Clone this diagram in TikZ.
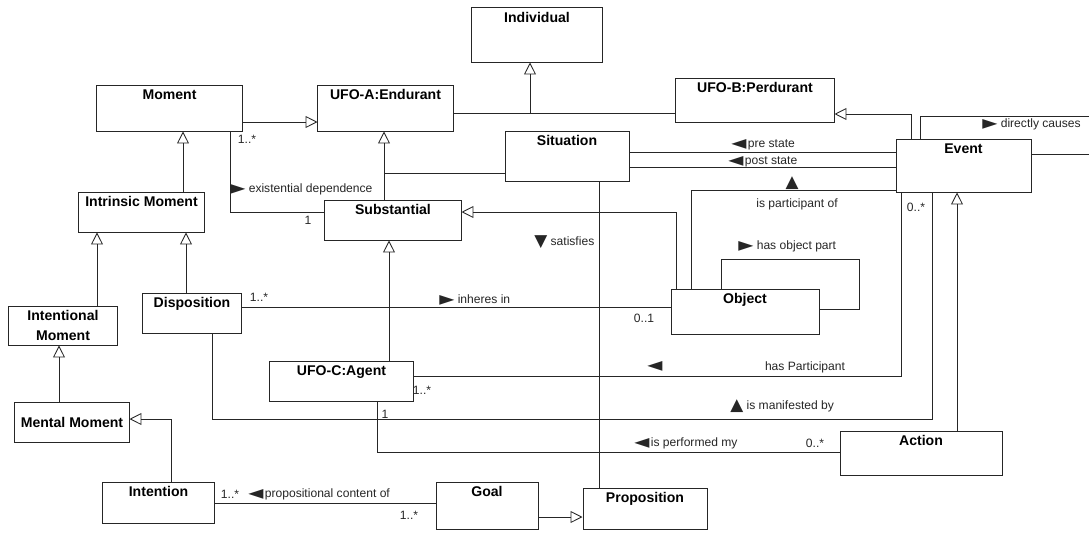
\documentclass[tikz,border=0pt]{standalone}
\usepackage{fontspec}
\setmainfont{Liberation Sans}
\newfontfamily\symfont{DejaVu Sans}
\usetikzlibrary{arrows.meta}
\newcommand{\rtri}{\smash{\raisebox{-1.5pt}{\symfont\fontsize{14}{14}\selectfont\char"25BA}}}
\newcommand{\ltri}{\smash{\raisebox{-1.5pt}{\symfont\fontsize{14}{14}\selectfont\char"25C4}}}
\newcommand{\utri}{\smash{\raisebox{-0.5pt}{\symfont\fontsize{12}{12}\selectfont\char"25B2}}}
\newcommand{\dtri}{\smash{\raisebox{-0.5pt}{\symfont\fontsize{12}{12}\selectfont\char"25BC}}}

\begin{document}
\begin{tikzpicture}[x=0.025cm, y=-0.025cm,
  cls/.style={draw=black!85, line width=0.7pt, inner sep=0pt},
  ttl/.style={anchor=north, font=\bfseries\fontsize{10}{12}\selectfont},
  lbl/.style={font=\fontsize{8.6}{10}\selectfont, inner sep=0pt, text=black!85},
  conn/.style={draw=black!85, line width=0.6pt},
  gen/.style={conn, -{Triangle[open, length=8.5pt, width=8.5pt]}}]
  \useasboundingbox (0,0) rectangle (1089,532);

  % Classes
  \node[cls, minimum width=3.25cm, minimum height=1.35cm,
        label={[ttl]north:Individual}] (individual) at (537,35) {};
  \node[cls, minimum width=3.625cm, minimum height=1.15cm,
        label={[ttl]north:Moment}] (moment) at (169.5,108) {};
  \node[cls, minimum width=3.375cm, minimum height=1.15cm,
        label={[ttl]north:{UFO-A:Endurant}}] (endurant) at (385.5,108) {};
  \node[cls, minimum width=3.95cm, minimum height=1.1cm,
        label={[ttl]north:{UFO-B:Perdurant}}] (perdurant) at (755,100) {};
  \node[cls, minimum width=3.1cm, minimum height=1.25cm,
        label={[ttl]north:Situation}] (situation) at (567,156) {};
  \node[cls, minimum width=3.375cm, minimum height=1.325cm,
        label={[ttl]north:Event}] (event) at (963.5,165.5) {};
  \node[cls, minimum width=3.125cm, minimum height=1.0cm,
        label={[ttl]north:Intrinsic Moment}] (intrinsic) at (141.5,212) {};
  \node[cls, minimum width=3.4cm, minimum height=1.0cm,
        label={[ttl]north:Substantial}] (substantial) at (393,220) {};
  \node[cls, minimum width=3.7cm, minimum height=1.125cm,
        label={[ttl]north:Object}] (object) at (745,311.5) {};
  \node[cls, minimum width=2.45cm, minimum height=1.0cm,
        label={[ttl]north:Disposition}] (disposition) at (192,313) {};
  \node[cls, minimum width=2.7cm, minimum height=0.975cm, align=center,
        font=\bfseries\fontsize{10}{14}\selectfont] (intentional) at (63,325.5)
        {Intentional\\Moment};
  \node[cls, minimum width=3.575cm, minimum height=1.0cm,
        label={[ttl]north:{UFO-C:Agent}}] (agent) at (341.5,381) {};
  \node[cls, minimum width=2.85cm, minimum height=1.0cm,
        font=\bfseries\fontsize{10}{12}\selectfont] (mental) at (72,422) {Mental Moment};
  \node[cls, minimum width=4.05cm, minimum height=1.1cm,
        label={[ttl]north:Action}] (action) at (921,453) {};
  \node[cls, minimum width=2.775cm, minimum height=1.025cm,
        label={[ttl]north:Intention}] (intention) at (158.5,502.5) {};
  \node[cls, minimum width=2.55cm, minimum height=1.175cm,
        label={[ttl]north:Goal}] (goal) at (487,505.5) {};
  \node[cls, minimum width=3.1cm, minimum height=1.025cm,
        label={[ttl]north:Proposition}] (proposition) at (645,508.5) {};

  % Generalisations
  \coordinate (indjoin) at (530,113);
  \coordinate (endjoin) at (384,173);
  \draw[gen] (moment.east |- 0,122) -- (endurant.west |- 0,122);
  \draw[conn] (endurant.east |- indjoin) -- (perdurant.west |- indjoin);
  \draw[gen] (indjoin) -- (individual.south -| indjoin);
  \draw[gen] (substantial.north -| endjoin) -- (endurant.south -| endjoin);
  \draw[conn] (situation.west |- endjoin) -- (endjoin);
  \draw[gen] (intrinsic.north -| 183,0) -- (moment.south -| 183,0);
  \draw[gen] (disposition.north -| 186,0) -- (intrinsic.south -| 186,0);
  \draw[gen] (intentional.north -| 97,0) -- (intrinsic.south -| 97,0);
  \draw[gen] (mental.north -| 59,0) -- (intentional.south -| 59,0);
  \draw[gen] (intention.north -| 171,0) |- (mental.east |- 0,419);
  \draw[gen] (goal.east |- 0,517) -- (proposition.west |- 0,517);
  \draw[gen] (object.north -| 676,0) |- (substantial.east |- 0,212);
  \draw[gen] (agent.north -| 389,0) -- (substantial.south -| 389,0);
  \draw[gen] (action.north -| 957,0) -- (event.south -| 957,0);
  \draw[gen] (event.north -| 911,0) |- (perdurant.east |- 0,114);

  % Associations
  \draw[conn] (moment.south -| 230,0) |- (substantial.west |- 0,212);
  \draw[conn] (intention.east |- 0,503) -- (goal.west |- 0,503);
  \draw[conn] (situation.south -| 599,0) -- (proposition.north -| 599,0);
  \draw[conn] (situation.east |- 0,152) -- (event.west |- 0,152);
  \draw[conn] (situation.east |- 0,167) -- (event.west |- 0,167);
  \draw[conn] (object.north -| 691,0) |- (event.west |- 0,190);
  \draw[conn] (object.north -| 721,0) |- (859,259) |- (object.east |- 0,309);
  \draw[conn] (disposition.east |- 0,307) -- (object.west |- 0,307);
  \draw[conn] (agent.east |- 0,376) -| (event.south -| 901,0);
  \draw[conn] (disposition.south -| 212,0) |- (932,419) -- (event.south -| 932,0);
  \draw[conn] (agent.south -| 377,0) |- (action.west |- 0,452);
  \draw[conn] (event.north -| 920,0) |- (1100,116) |- (event.east |- 0,154);

  % Labels
  \node[lbl] (mmoment) at (247,139) {1..*};
  \node[lbl, anchor=base west] (lexist) at (230,192.5) {\rtri\ existential dependence};
  \node[lbl] (msubst) at (308,220) {1};
  \node[lbl] (mdispo) at (259,297) {1..*};
  \node[lbl, anchor=base west] (linheres) at (439,303.5) {\rtri\ inheres in};
  \node[lbl] (mobject) at (644,318) {0..1};
  \node[lbl, anchor=base west] (lsatisfies) at (534,245.5) {\dtri\ satisfies};
  \node[lbl, anchor=base west] (lpre) at (731,147.5) {\ltri\kern1pt pre state};
  \node[lbl, anchor=base west] (lpost) at (728,164) {\ltri\kern1pt post state};
  \node[lbl, anchor=base] (aparticip) at (792,187) {\utri};
  \node[lbl] (lparticip) at (797,204) {is participant of};
  \node[lbl, anchor=base west] (lpart) at (738,249.5) {\rtri\ has object part};
  \node[lbl, anchor=base west] (lcauses) at (982,127.5) {\rtri\ directly causes};
  \node[lbl] (mevent) at (916,207) {0..*};
  \node[lbl, anchor=base] (ahas) at (655,369.5) {\ltri};
  \node[lbl] (lhas) at (805,367) {has Participant};
  \node[lbl] (magent) at (422,390) {1..*};
  \node[lbl] (magentb) at (385,414) {1};
  \node[lbl, anchor=base west] (lmanif) at (730,409.5) {\utri\ is manifested by};
  \node[lbl, anchor=base west] (lperf) at (634,446.5) {\ltri\kern1pt is performed my};
  \node[lbl] (maction) at (815,443) {0..*};
  \node[lbl] (mintent) at (230,494) {1..*};
  \node[lbl, anchor=base west] (lprop) at (248,497.5) {\ltri\kern1pt propositional content of};
  \node[lbl] (mgoal) at (409,515) {1..*};
\end{tikzpicture}
\end{document}
